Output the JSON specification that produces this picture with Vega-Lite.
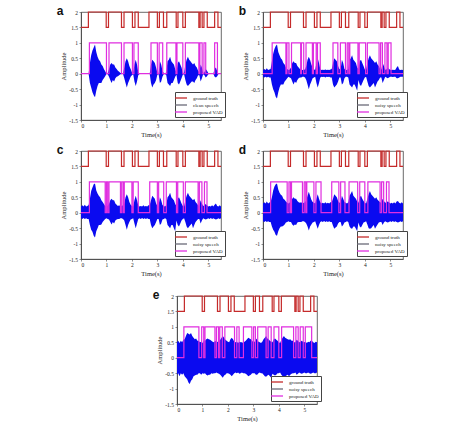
{
"$schema":"https://vega.github.io/schema/vega-lite/v6.json",
"background":"white",
"padding":{"left":56,"top":4,"right":0,"bottom":0},
"config":{
 "view":{"stroke":"#444","strokeWidth":0.8},
 "axis":{"grid":false,"labelOverlap":false,"labelSeparation":0,"labelFont":"Liberation Serif","titleFont":"Liberation Serif","labelFontSize":5.5,"titleFontSize":6.5,"titleFontWeight":"normal","labelColor":"#222","titleColor":"#222","domainColor":"#444","tickColor":"#444","tickSize":2,"domainWidth":0.8,"tickWidth":0.6,"labelPadding":1.5,"titlePadding":2},
 "axisX":{"labelOverlap":false},
 "axisY":{"labelOverlap":false},
 "axisQuantitative":{"labelOverlap":false},
 "legend":{"labelFont":"Liberation Serif","labelFontSize":5,"labelColor":"#222","symbolType":"M-2,0H2","symbolSize":36,"symbolStrokeWidth":1.3,"rowPadding":0,"padding":2,"strokeColor":"#444","fillColor":"white","labelOffset":8,"orient":"none","legendX":94,"legendY":80},
 "title":{"font":"Liberation Sans","fontSize":12,"fontWeight":"bold","color":"#111","anchor":"start","frame":"bounds","offset":-8,"dx":-4}
},
"datasets":{
"st":[
{"p":"g","s":"ground truth","t":0,"h":1.5},{"p":"g","s":"ground truth","t":0.29,"h":2},{"p":"g","s":"ground truth","t":0.99,"h":1.5},{"p":"g","s":"ground truth","t":1.08,"h":2},{"p":"g","s":"ground truth","t":1.59,"h":1.5},{"p":"g","s":"ground truth","t":1.69,"h":2},{"p":"g","s":"ground truth","t":2.02,"h":1.5},{"p":"g","s":"ground truth","t":2.12,"h":2},{"p":"g","s":"ground truth","t":2.25,"h":1.5},{"p":"g","s":"ground truth","t":2.67,"h":2},{"p":"g","s":"ground truth","t":3.0,"h":1.5},{"p":"g","s":"ground truth","t":3.08,"h":2},{"p":"g","s":"ground truth","t":3.24,"h":1.5},{"p":"g","s":"ground truth","t":3.37,"h":2},{"p":"g","s":"ground truth","t":3.74,"h":1.5},{"p":"g","s":"ground truth","t":3.81,"h":2},{"p":"g","s":"ground truth","t":4.0,"h":1.5},{"p":"g","s":"ground truth","t":4.1,"h":2},{"p":"g","s":"ground truth","t":4.63,"h":1.5},{"p":"g","s":"ground truth","t":4.68,"h":2},{"p":"g","s":"ground truth","t":4.76,"h":1.5},{"p":"g","s":"ground truth","t":4.83,"h":2},{"p":"g","s":"ground truth","t":4.96,"h":1.5},{"p":"g","s":"ground truth","t":5.25,"h":2},{"p":"g","s":"ground truth","t":5.38,"h":1.5},{"p":"g","s":"ground truth","t":5.5,"h":1.5},
{"p":"a","s":"proposed VAD","t":0,"h":0},{"p":"a","s":"proposed VAD","t":0.33,"h":1},{"p":"a","s":"proposed VAD","t":1.0,"h":0},{"p":"a","s":"proposed VAD","t":1.1,"h":1},{"p":"a","s":"proposed VAD","t":1.59,"h":0},{"p":"a","s":"proposed VAD","t":1.69,"h":1},{"p":"a","s":"proposed VAD","t":2.02,"h":0},{"p":"a","s":"proposed VAD","t":2.08,"h":1},{"p":"a","s":"proposed VAD","t":2.25,"h":0},{"p":"a","s":"proposed VAD","t":2.75,"h":1},{"p":"a","s":"proposed VAD","t":3.0,"h":0},{"p":"a","s":"proposed VAD","t":3.07,"h":1},{"p":"a","s":"proposed VAD","t":3.21,"h":0},{"p":"a","s":"proposed VAD","t":3.37,"h":1},{"p":"a","s":"proposed VAD","t":3.73,"h":0},{"p":"a","s":"proposed VAD","t":3.77,"h":1},{"p":"a","s":"proposed VAD","t":4.0,"h":0},{"p":"a","s":"proposed VAD","t":4.1,"h":1},{"p":"a","s":"proposed VAD","t":4.63,"h":0},{"p":"a","s":"proposed VAD","t":4.67,"h":1},{"p":"a","s":"proposed VAD","t":4.76,"h":0},{"p":"a","s":"proposed VAD","t":4.83,"h":1},{"p":"a","s":"proposed VAD","t":4.9,"h":0},{"p":"a","s":"proposed VAD","t":5.25,"h":1},{"p":"a","s":"proposed VAD","t":5.36,"h":0},{"p":"a","s":"proposed VAD","t":5.5,"h":0},
{"p":"b","s":"proposed VAD","t":0,"h":0},{"p":"b","s":"proposed VAD","t":0.36,"h":1},{"p":"b","s":"proposed VAD","t":0.9,"h":0},{"p":"b","s":"proposed VAD","t":0.94,"h":1},{"p":"b","s":"proposed VAD","t":1.02,"h":0},{"p":"b","s":"proposed VAD","t":1.12,"h":1},{"p":"b","s":"proposed VAD","t":1.48,"h":0},{"p":"b","s":"proposed VAD","t":1.51,"h":1},{"p":"b","s":"proposed VAD","t":1.6,"h":0},{"p":"b","s":"proposed VAD","t":1.69,"h":1},{"p":"b","s":"proposed VAD","t":1.94,"h":0},{"p":"b","s":"proposed VAD","t":1.98,"h":1},{"p":"b","s":"proposed VAD","t":2.09,"h":0},{"p":"b","s":"proposed VAD","t":2.14,"h":1},{"p":"b","s":"proposed VAD","t":2.25,"h":0},{"p":"b","s":"proposed VAD","t":2.75,"h":1},{"p":"b","s":"proposed VAD","t":2.94,"h":0},{"p":"b","s":"proposed VAD","t":3.04,"h":1},{"p":"b","s":"proposed VAD","t":3.24,"h":0},{"p":"b","s":"proposed VAD","t":3.31,"h":1},{"p":"b","s":"proposed VAD","t":3.37,"h":0},{"p":"b","s":"proposed VAD","t":3.41,"h":1},{"p":"b","s":"proposed VAD","t":3.73,"h":0},{"p":"b","s":"proposed VAD","t":3.78,"h":1},{"p":"b","s":"proposed VAD","t":4.03,"h":0},{"p":"b","s":"proposed VAD","t":4.1,"h":1},{"p":"b","s":"proposed VAD","t":4.56,"h":0},{"p":"b","s":"proposed VAD","t":4.62,"h":1},{"p":"b","s":"proposed VAD","t":4.69,"h":0},{"p":"b","s":"proposed VAD","t":4.79,"h":1},{"p":"b","s":"proposed VAD","t":4.87,"h":0},{"p":"b","s":"proposed VAD","t":4.92,"h":1},{"p":"b","s":"proposed VAD","t":5.03,"h":0},{"p":"b","s":"proposed VAD","t":5.5,"h":0},
{"p":"c","s":"proposed VAD","t":0,"h":0},{"p":"c","s":"proposed VAD","t":0.33,"h":1},{"p":"c","s":"proposed VAD","t":0.95,"h":0},{"p":"c","s":"proposed VAD","t":1.0,"h":1},{"p":"c","s":"proposed VAD","t":1.05,"h":0},{"p":"c","s":"proposed VAD","t":1.1,"h":1},{"p":"c","s":"proposed VAD","t":1.55,"h":0},{"p":"c","s":"proposed VAD","t":1.6,"h":1},{"p":"c","s":"proposed VAD","t":1.66,"h":0},{"p":"c","s":"proposed VAD","t":1.7,"h":1},{"p":"c","s":"proposed VAD","t":2.0,"h":0},{"p":"c","s":"proposed VAD","t":2.05,"h":1},{"p":"c","s":"proposed VAD","t":2.25,"h":0},{"p":"c","s":"proposed VAD","t":2.7,"h":1},{"p":"c","s":"proposed VAD","t":3.0,"h":0},{"p":"c","s":"proposed VAD","t":3.05,"h":1},{"p":"c","s":"proposed VAD","t":3.25,"h":0},{"p":"c","s":"proposed VAD","t":3.35,"h":1},{"p":"c","s":"proposed VAD","t":3.75,"h":0},{"p":"c","s":"proposed VAD","t":3.8,"h":1},{"p":"c","s":"proposed VAD","t":4.02,"h":0},{"p":"c","s":"proposed VAD","t":4.1,"h":1},{"p":"c","s":"proposed VAD","t":4.6,"h":0},{"p":"c","s":"proposed VAD","t":4.65,"h":1},{"p":"c","s":"proposed VAD","t":4.75,"h":0},{"p":"c","s":"proposed VAD","t":4.85,"h":1},{"p":"c","s":"proposed VAD","t":4.95,"h":0},{"p":"c","s":"proposed VAD","t":5.5,"h":0},
{"p":"d","s":"proposed VAD","t":0,"h":0},{"p":"d","s":"proposed VAD","t":0.3,"h":1},{"p":"d","s":"proposed VAD","t":0.95,"h":0},{"p":"d","s":"proposed VAD","t":1.02,"h":1},{"p":"d","s":"proposed VAD","t":1.08,"h":0},{"p":"d","s":"proposed VAD","t":1.12,"h":1},{"p":"d","s":"proposed VAD","t":1.55,"h":0},{"p":"d","s":"proposed VAD","t":1.62,"h":1},{"p":"d","s":"proposed VAD","t":1.68,"h":0},{"p":"d","s":"proposed VAD","t":1.72,"h":1},{"p":"d","s":"proposed VAD","t":2.0,"h":0},{"p":"d","s":"proposed VAD","t":2.08,"h":1},{"p":"d","s":"proposed VAD","t":2.28,"h":0},{"p":"d","s":"proposed VAD","t":2.7,"h":1},{"p":"d","s":"proposed VAD","t":2.98,"h":0},{"p":"d","s":"proposed VAD","t":3.05,"h":1},{"p":"d","s":"proposed VAD","t":3.22,"h":0},{"p":"d","s":"proposed VAD","t":3.38,"h":1},{"p":"d","s":"proposed VAD","t":3.72,"h":0},{"p":"d","s":"proposed VAD","t":3.8,"h":1},{"p":"d","s":"proposed VAD","t":4.0,"h":0},{"p":"d","s":"proposed VAD","t":4.12,"h":1},{"p":"d","s":"proposed VAD","t":4.6,"h":0},{"p":"d","s":"proposed VAD","t":4.66,"h":1},{"p":"d","s":"proposed VAD","t":4.74,"h":0},{"p":"d","s":"proposed VAD","t":4.85,"h":1},{"p":"d","s":"proposed VAD","t":4.95,"h":0},{"p":"d","s":"proposed VAD","t":5.5,"h":0},
{"p":"e","s":"proposed VAD","t":0,"h":0},{"p":"e","s":"proposed VAD","t":0.27,"h":1},{"p":"e","s":"proposed VAD","t":0.86,"h":0},{"p":"e","s":"proposed VAD","t":0.97,"h":1},{"p":"e","s":"proposed VAD","t":1.05,"h":0},{"p":"e","s":"proposed VAD","t":1.1,"h":1},{"p":"e","s":"proposed VAD","t":1.49,"h":0},{"p":"e","s":"proposed VAD","t":1.55,"h":1},{"p":"e","s":"proposed VAD","t":1.63,"h":0},{"p":"e","s":"proposed VAD","t":1.68,"h":1},{"p":"e","s":"proposed VAD","t":1.78,"h":0},{"p":"e","s":"proposed VAD","t":1.88,"h":1},{"p":"e","s":"proposed VAD","t":2.26,"h":0},{"p":"e","s":"proposed VAD","t":2.35,"h":1},{"p":"e","s":"proposed VAD","t":2.44,"h":0},{"p":"e","s":"proposed VAD","t":2.61,"h":1},{"p":"e","s":"proposed VAD","t":2.94,"h":0},{"p":"e","s":"proposed VAD","t":3.01,"h":1},{"p":"e","s":"proposed VAD","t":3.08,"h":0},{"p":"e","s":"proposed VAD","t":3.17,"h":1},{"p":"e","s":"proposed VAD","t":3.5,"h":0},{"p":"e","s":"proposed VAD","t":3.58,"h":1},{"p":"e","s":"proposed VAD","t":3.7,"h":0},{"p":"e","s":"proposed VAD","t":3.81,"h":1},{"p":"e","s":"proposed VAD","t":4.0,"h":0},{"p":"e","s":"proposed VAD","t":4.11,"h":1},{"p":"e","s":"proposed VAD","t":4.58,"h":0},{"p":"e","s":"proposed VAD","t":4.67,"h":1},{"p":"e","s":"proposed VAD","t":4.76,"h":0},{"p":"e","s":"proposed VAD","t":4.84,"h":1},{"p":"e","s":"proposed VAD","t":4.96,"h":0},{"p":"e","s":"proposed VAD","t":5.04,"h":1},{"p":"e","s":"proposed VAD","t":5.29,"h":0},{"p":"e","s":"proposed VAD","t":5.5,"h":0}
],
"sp":[
{"p":"a","t":0,"h":0.01,"l":-0.01},{"p":"a","t":0.3,"h":0.01,"l":-0.01},{"p":"a","t":0.35,"h":0.35,"l":-0.3},{"p":"a","t":0.4,"h":0.6,"l":-0.45},{"p":"a","t":0.45,"h":0.75,"l":-0.6},{"p":"a","t":0.5,"h":0.85,"l":-0.7},{"p":"a","t":0.55,"h":0.95,"l":-0.76},{"p":"a","t":0.6,"h":0.7,"l":-0.55},{"p":"a","t":0.65,"h":0.55,"l":-0.4},{"p":"a","t":0.7,"h":0.45,"l":-0.3},{"p":"a","t":0.75,"h":0.4,"l":-0.3},{"p":"a","t":0.8,"h":0.3,"l":-0.3},{"p":"a","t":0.85,"h":0.25,"l":-0.2},{"p":"a","t":0.9,"h":0.15,"l":-0.15},{"p":"a","t":0.95,"h":0.08,"l":-0.08},{"p":"a","t":1.0,"h":0.01,"l":-0.01},{"p":"a","t":1.05,"h":0.02,"l":-0.02},{"p":"a","t":1.1,"h":0.15,"l":-0.1},{"p":"a","t":1.15,"h":0.3,"l":-0.2},{"p":"a","t":1.2,"h":0.35,"l":-0.3},{"p":"a","t":1.25,"h":0.3,"l":-0.2},{"p":"a","t":1.3,"h":0.3,"l":-0.25},{"p":"a","t":1.35,"h":0.2,"l":-0.15},{"p":"a","t":1.4,"h":0.15,"l":-0.1},{"p":"a","t":1.45,"h":0.1,"l":-0.08},{"p":"a","t":1.5,"h":0.06,"l":-0.05},{"p":"a","t":1.55,"h":0.02,"l":-0.02},{"p":"a","t":1.65,"h":0.01,"l":-0.01},{"p":"a","t":1.7,"h":0.2,"l":-0.15},{"p":"a","t":1.75,"h":0.4,"l":-0.3},{"p":"a","t":1.8,"h":0.5,"l":-0.45},{"p":"a","t":1.85,"h":0.4,"l":-0.3},{"p":"a","t":1.9,"h":0.25,"l":-0.2},{"p":"a","t":1.95,"h":0.15,"l":-0.1},{"p":"a","t":2.0,"h":0.05,"l":-0.05},{"p":"a","t":2.05,"h":0.02,"l":-0.02},{"p":"a","t":2.1,"h":0.3,"l":-0.25},{"p":"a","t":2.15,"h":0.45,"l":-0.4},{"p":"a","t":2.2,"h":0.3,"l":-0.25},{"p":"a","t":2.25,"h":0.05,"l":-0.05},{"p":"a","t":2.3,"h":0.01,"l":-0.01},{"p":"a","t":2.7,"h":0.01,"l":-0.01},{"p":"a","t":2.75,"h":0.3,"l":-0.3},{"p":"a","t":2.8,"h":0.45,"l":-0.45},{"p":"a","t":2.85,"h":0.4,"l":-0.35},{"p":"a","t":2.9,"h":0.35,"l":-0.3},{"p":"a","t":2.95,"h":0.2,"l":-0.2},{"p":"a","t":3.0,"h":0.03,"l":-0.03},{"p":"a","t":3.05,"h":0.02,"l":-0.02},{"p":"a","t":3.1,"h":0.4,"l":-0.3},{"p":"a","t":3.15,"h":0.3,"l":-0.25},{"p":"a","t":3.2,"h":0.1,"l":-0.1},{"p":"a","t":3.25,"h":0.02,"l":-0.02},{"p":"a","t":3.3,"h":0.01,"l":-0.01},{"p":"a","t":3.35,"h":0.05,"l":-0.05},{"p":"a","t":3.4,"h":0.4,"l":-0.3},{"p":"a","t":3.45,"h":0.45,"l":-0.35},{"p":"a","t":3.5,"h":0.55,"l":-0.4},{"p":"a","t":3.55,"h":0.4,"l":-0.3},{"p":"a","t":3.6,"h":0.35,"l":-0.3},{"p":"a","t":3.65,"h":0.3,"l":-0.2},{"p":"a","t":3.7,"h":0.15,"l":-0.1},{"p":"a","t":3.75,"h":0.03,"l":-0.03},{"p":"a","t":3.8,"h":0.35,"l":-0.3},{"p":"a","t":3.85,"h":0.4,"l":-0.35},{"p":"a","t":3.9,"h":0.3,"l":-0.25},{"p":"a","t":3.95,"h":0.2,"l":-0.15},{"p":"a","t":4.0,"h":0.03,"l":-0.03},{"p":"a","t":4.05,"h":0.02,"l":-0.02},{"p":"a","t":4.1,"h":0.3,"l":-0.2},{"p":"a","t":4.15,"h":0.45,"l":-0.35},{"p":"a","t":4.2,"h":0.55,"l":-0.4},{"p":"a","t":4.25,"h":0.45,"l":-0.35},{"p":"a","t":4.3,"h":0.4,"l":-0.3},{"p":"a","t":4.35,"h":0.35,"l":-0.25},{"p":"a","t":4.4,"h":0.3,"l":-0.25},{"p":"a","t":4.45,"h":0.35,"l":-0.3},{"p":"a","t":4.5,"h":0.25,"l":-0.2},{"p":"a","t":4.55,"h":0.2,"l":-0.15},{"p":"a","t":4.6,"h":0.1,"l":-0.05},{"p":"a","t":4.65,"h":0.05,"l":-0.05},{"p":"a","t":4.7,"h":0.3,"l":-0.25},{"p":"a","t":4.75,"h":0.2,"l":-0.15},{"p":"a","t":4.8,"h":0.02,"l":-0.02},{"p":"a","t":4.85,"h":0.05,"l":-0.05},{"p":"a","t":4.9,"h":0.15,"l":-0.12},{"p":"a","t":4.95,"h":0.1,"l":-0.08},{"p":"a","t":5.0,"h":0.02,"l":-0.02},{"p":"a","t":5.05,"h":0.01,"l":-0.01},{"p":"a","t":5.2,"h":0.01,"l":-0.01},{"p":"a","t":5.25,"h":0.15,"l":-0.1},{"p":"a","t":5.3,"h":0.2,"l":-0.12},{"p":"a","t":5.35,"h":0.08,"l":-0.08},{"p":"a","t":5.4,"h":0.01,"l":-0.01},{"p":"a","t":5.5,"h":0.01,"l":-0.01},
{"p":"b","t":0,"h":0.12,"l":-0.1},{"p":"b","t":0.05,"h":0.15,"l":-0.12},{"p":"b","t":0.1,"h":0.12,"l":-0.1},{"p":"b","t":0.15,"h":0.18,"l":-0.12},{"p":"b","t":0.2,"h":0.12,"l":-0.1},{"p":"b","t":0.25,"h":0.14,"l":-0.12},{"p":"b","t":0.3,"h":0.15,"l":-0.12},{"p":"b","t":0.35,"h":0.4,"l":-0.35},{"p":"b","t":0.4,"h":0.65,"l":-0.5},{"p":"b","t":0.45,"h":0.8,"l":-0.6},{"p":"b","t":0.5,"h":0.9,"l":-0.75},{"p":"b","t":0.55,"h":0.95,"l":-0.8},{"p":"b","t":0.6,"h":0.7,"l":-0.6},{"p":"b","t":0.65,"h":0.6,"l":-0.45},{"p":"b","t":0.7,"h":0.5,"l":-0.35},{"p":"b","t":0.75,"h":0.45,"l":-0.35},{"p":"b","t":0.8,"h":0.35,"l":-0.35},{"p":"b","t":0.85,"h":0.3,"l":-0.25},{"p":"b","t":0.9,"h":0.2,"l":-0.2},{"p":"b","t":0.95,"h":0.15,"l":-0.15},{"p":"b","t":1.0,"h":0.12,"l":-0.1},{"p":"b","t":1.05,"h":0.14,"l":-0.12},{"p":"b","t":1.1,"h":0.2,"l":-0.15},{"p":"b","t":1.15,"h":0.35,"l":-0.25},{"p":"b","t":1.2,"h":0.4,"l":-0.35},{"p":"b","t":1.25,"h":0.35,"l":-0.25},{"p":"b","t":1.3,"h":0.35,"l":-0.3},{"p":"b","t":1.35,"h":0.25,"l":-0.2},{"p":"b","t":1.4,"h":0.2,"l":-0.15},{"p":"b","t":1.45,"h":0.15,"l":-0.12},{"p":"b","t":1.5,"h":0.14,"l":-0.12},{"p":"b","t":1.55,"h":0.12,"l":-0.1},{"p":"b","t":1.6,"h":0.13,"l":-0.1},{"p":"b","t":1.65,"h":0.14,"l":-0.12},{"p":"b","t":1.7,"h":0.25,"l":-0.2},{"p":"b","t":1.75,"h":0.45,"l":-0.35},{"p":"b","t":1.8,"h":0.55,"l":-0.5},{"p":"b","t":1.85,"h":0.45,"l":-0.35},{"p":"b","t":1.9,"h":0.3,"l":-0.25},{"p":"b","t":1.95,"h":0.2,"l":-0.15},{"p":"b","t":2.0,"h":0.14,"l":-0.12},{"p":"b","t":2.05,"h":0.13,"l":-0.1},{"p":"b","t":2.1,"h":0.35,"l":-0.3},{"p":"b","t":2.15,"h":0.5,"l":-0.45},{"p":"b","t":2.2,"h":0.35,"l":-0.3},{"p":"b","t":2.25,"h":0.15,"l":-0.12},{"p":"b","t":2.3,"h":0.12,"l":-0.1},{"p":"b","t":2.35,"h":0.13,"l":-0.11},{"p":"b","t":2.4,"h":0.12,"l":-0.1},{"p":"b","t":2.45,"h":0.14,"l":-0.12},{"p":"b","t":2.5,"h":0.12,"l":-0.1},{"p":"b","t":2.55,"h":0.13,"l":-0.11},{"p":"b","t":2.6,"h":0.12,"l":-0.1},{"p":"b","t":2.65,"h":0.14,"l":-0.12},{"p":"b","t":2.7,"h":0.15,"l":-0.12},{"p":"b","t":2.75,"h":0.35,"l":-0.35},{"p":"b","t":2.8,"h":0.5,"l":-0.45},{"p":"b","t":2.85,"h":0.45,"l":-0.4},{"p":"b","t":2.9,"h":0.4,"l":-0.35},{"p":"b","t":2.95,"h":0.25,"l":-0.25},{"p":"b","t":3.0,"h":0.15,"l":-0.12},{"p":"b","t":3.05,"h":0.14,"l":-0.12},{"p":"b","t":3.1,"h":0.45,"l":-0.35},{"p":"b","t":3.15,"h":0.35,"l":-0.3},{"p":"b","t":3.2,"h":0.15,"l":-0.15},{"p":"b","t":3.25,"h":0.13,"l":-0.1},{"p":"b","t":3.3,"h":0.12,"l":-0.1},{"p":"b","t":3.35,"h":0.15,"l":-0.12},{"p":"b","t":3.4,"h":0.45,"l":-0.35},{"p":"b","t":3.45,"h":0.5,"l":-0.4},{"p":"b","t":3.5,"h":0.6,"l":-0.45},{"p":"b","t":3.55,"h":0.45,"l":-0.35},{"p":"b","t":3.6,"h":0.4,"l":-0.35},{"p":"b","t":3.65,"h":0.35,"l":-0.45},{"p":"b","t":3.7,"h":0.2,"l":-0.55},{"p":"b","t":3.75,"h":0.15,"l":-0.2},{"p":"b","t":3.8,"h":0.4,"l":-0.35},{"p":"b","t":3.85,"h":0.45,"l":-0.4},{"p":"b","t":3.9,"h":0.35,"l":-0.3},{"p":"b","t":3.95,"h":0.25,"l":-0.2},{"p":"b","t":4.0,"h":0.14,"l":-0.12},{"p":"b","t":4.05,"h":0.13,"l":-0.1},{"p":"b","t":4.1,"h":0.35,"l":-0.25},{"p":"b","t":4.15,"h":0.5,"l":-0.4},{"p":"b","t":4.2,"h":0.6,"l":-0.45},{"p":"b","t":4.25,"h":0.5,"l":-0.4},{"p":"b","t":4.3,"h":0.45,"l":-0.35},{"p":"b","t":4.35,"h":0.4,"l":-0.3},{"p":"b","t":4.4,"h":0.35,"l":-0.45},{"p":"b","t":4.45,"h":0.4,"l":-0.35},{"p":"b","t":4.5,"h":0.3,"l":-0.25},{"p":"b","t":4.55,"h":0.25,"l":-0.2},{"p":"b","t":4.6,"h":0.15,"l":-0.12},{"p":"b","t":4.65,"h":0.14,"l":-0.12},{"p":"b","t":4.7,"h":0.35,"l":-0.3},{"p":"b","t":4.75,"h":0.25,"l":-0.2},{"p":"b","t":4.8,"h":0.13,"l":-0.1},{"p":"b","t":4.85,"h":0.14,"l":-0.12},{"p":"b","t":4.9,"h":0.2,"l":-0.15},{"p":"b","t":4.95,"h":0.15,"l":-0.12},{"p":"b","t":5.0,"h":0.13,"l":-0.1},{"p":"b","t":5.05,"h":0.12,"l":-0.1},{"p":"b","t":5.1,"h":0.13,"l":-0.11},{"p":"b","t":5.15,"h":0.12,"l":-0.1},{"p":"b","t":5.2,"h":0.13,"l":-0.1},{"p":"b","t":5.25,"h":0.2,"l":-0.15},{"p":"b","t":5.3,"h":0.25,"l":-0.15},{"p":"b","t":5.35,"h":0.14,"l":-0.12},{"p":"b","t":5.4,"h":0.12,"l":-0.1},{"p":"b","t":5.45,"h":0.13,"l":-0.1},{"p":"b","t":5.5,"h":0.12,"l":-0.1},
{"p":"c","t":0,"h":0.2,"l":-0.18},{"p":"c","t":0.05,"h":0.24,"l":-0.2},{"p":"c","t":0.1,"h":0.2,"l":-0.17},{"p":"c","t":0.15,"h":0.26,"l":-0.2},{"p":"c","t":0.2,"h":0.2,"l":-0.18},{"p":"c","t":0.25,"h":0.22,"l":-0.2},{"p":"c","t":0.3,"h":0.25,"l":-0.2},{"p":"c","t":0.35,"h":0.45,"l":-0.4},{"p":"c","t":0.4,"h":0.7,"l":-0.55},{"p":"c","t":0.45,"h":0.82,"l":-0.62},{"p":"c","t":0.5,"h":0.92,"l":-0.75},{"p":"c","t":0.55,"h":0.95,"l":-0.8},{"p":"c","t":0.6,"h":0.72,"l":-0.6},{"p":"c","t":0.65,"h":0.62,"l":-0.5},{"p":"c","t":0.7,"h":0.55,"l":-0.4},{"p":"c","t":0.75,"h":0.5,"l":-0.4},{"p":"c","t":0.8,"h":0.4,"l":-0.38},{"p":"c","t":0.85,"h":0.35,"l":-0.3},{"p":"c","t":0.9,"h":0.28,"l":-0.25},{"p":"c","t":0.95,"h":0.22,"l":-0.2},{"p":"c","t":1.0,"h":0.2,"l":-0.18},{"p":"c","t":1.05,"h":0.23,"l":-0.2},{"p":"c","t":1.1,"h":0.28,"l":-0.22},{"p":"c","t":1.15,"h":0.4,"l":-0.3},{"p":"c","t":1.2,"h":0.45,"l":-0.38},{"p":"c","t":1.25,"h":0.4,"l":-0.3},{"p":"c","t":1.3,"h":0.4,"l":-0.35},{"p":"c","t":1.35,"h":0.3,"l":-0.25},{"p":"c","t":1.4,"h":0.26,"l":-0.22},{"p":"c","t":1.45,"h":0.22,"l":-0.2},{"p":"c","t":1.5,"h":0.24,"l":-0.2},{"p":"c","t":1.55,"h":0.2,"l":-0.18},{"p":"c","t":1.6,"h":0.22,"l":-0.18},{"p":"c","t":1.65,"h":0.24,"l":-0.2},{"p":"c","t":1.7,"h":0.3,"l":-0.25},{"p":"c","t":1.75,"h":0.5,"l":-0.4},{"p":"c","t":1.8,"h":0.6,"l":-0.55},{"p":"c","t":1.85,"h":0.5,"l":-0.4},{"p":"c","t":1.9,"h":0.35,"l":-0.3},{"p":"c","t":1.95,"h":0.26,"l":-0.22},{"p":"c","t":2.0,"h":0.22,"l":-0.2},{"p":"c","t":2.05,"h":0.2,"l":-0.18},{"p":"c","t":2.1,"h":0.4,"l":-0.35},{"p":"c","t":2.15,"h":0.55,"l":-0.5},{"p":"c","t":2.2,"h":0.4,"l":-0.35},{"p":"c","t":2.25,"h":0.24,"l":-0.2},{"p":"c","t":2.3,"h":0.2,"l":-0.18},{"p":"c","t":2.35,"h":0.22,"l":-0.2},{"p":"c","t":2.4,"h":0.2,"l":-0.17},{"p":"c","t":2.45,"h":0.24,"l":-0.2},{"p":"c","t":2.5,"h":0.2,"l":-0.18},{"p":"c","t":2.55,"h":0.22,"l":-0.2},{"p":"c","t":2.6,"h":0.2,"l":-0.18},{"p":"c","t":2.65,"h":0.24,"l":-0.2},{"p":"c","t":2.7,"h":0.25,"l":-0.2},{"p":"c","t":2.75,"h":0.4,"l":-0.4},{"p":"c","t":2.8,"h":0.55,"l":-0.5},{"p":"c","t":2.85,"h":0.5,"l":-0.45},{"p":"c","t":2.9,"h":0.45,"l":-0.4},{"p":"c","t":2.95,"h":0.3,"l":-0.3},{"p":"c","t":3.0,"h":0.22,"l":-0.2},{"p":"c","t":3.05,"h":0.24,"l":-0.2},{"p":"c","t":3.1,"h":0.5,"l":-0.4},{"p":"c","t":3.15,"h":0.4,"l":-0.35},{"p":"c","t":3.2,"h":0.25,"l":-0.22},{"p":"c","t":3.25,"h":0.22,"l":-0.2},{"p":"c","t":3.3,"h":0.2,"l":-0.18},{"p":"c","t":3.35,"h":0.24,"l":-0.2},{"p":"c","t":3.4,"h":0.5,"l":-0.4},{"p":"c","t":3.45,"h":0.55,"l":-0.45},{"p":"c","t":3.5,"h":0.65,"l":-0.5},{"p":"c","t":3.55,"h":0.5,"l":-0.4},{"p":"c","t":3.6,"h":0.45,"l":-0.4},{"p":"c","t":3.65,"h":0.4,"l":-0.5},{"p":"c","t":3.7,"h":0.28,"l":-0.6},{"p":"c","t":3.75,"h":0.22,"l":-0.25},{"p":"c","t":3.8,"h":0.45,"l":-0.4},{"p":"c","t":3.85,"h":0.5,"l":-0.45},{"p":"c","t":3.9,"h":0.4,"l":-0.35},{"p":"c","t":3.95,"h":0.3,"l":-0.25},{"p":"c","t":4.0,"h":0.22,"l":-0.2},{"p":"c","t":4.05,"h":0.2,"l":-0.18},{"p":"c","t":4.1,"h":0.4,"l":-0.3},{"p":"c","t":4.15,"h":0.55,"l":-0.45},{"p":"c","t":4.2,"h":0.65,"l":-0.5},{"p":"c","t":4.25,"h":0.55,"l":-0.45},{"p":"c","t":4.3,"h":0.5,"l":-0.4},{"p":"c","t":4.35,"h":0.45,"l":-0.35},{"p":"c","t":4.4,"h":0.4,"l":-0.5},{"p":"c","t":4.45,"h":0.45,"l":-0.4},{"p":"c","t":4.5,"h":0.35,"l":-0.3},{"p":"c","t":4.55,"h":0.3,"l":-0.25},{"p":"c","t":4.6,"h":0.24,"l":-0.2},{"p":"c","t":4.65,"h":0.22,"l":-0.2},{"p":"c","t":4.7,"h":0.4,"l":-0.35},{"p":"c","t":4.75,"h":0.3,"l":-0.25},{"p":"c","t":4.8,"h":0.22,"l":-0.18},{"p":"c","t":4.85,"h":0.24,"l":-0.2},{"p":"c","t":4.9,"h":0.28,"l":-0.22},{"p":"c","t":4.95,"h":0.24,"l":-0.2},{"p":"c","t":5.0,"h":0.2,"l":-0.18},{"p":"c","t":5.05,"h":0.22,"l":-0.2},{"p":"c","t":5.1,"h":0.2,"l":-0.17},{"p":"c","t":5.15,"h":0.24,"l":-0.2},{"p":"c","t":5.2,"h":0.2,"l":-0.18},{"p":"c","t":5.25,"h":0.26,"l":-0.2},{"p":"c","t":5.3,"h":0.3,"l":-0.22},{"p":"c","t":5.35,"h":0.22,"l":-0.2},{"p":"c","t":5.4,"h":0.2,"l":-0.18},{"p":"c","t":5.45,"h":0.24,"l":-0.2},{"p":"c","t":5.5,"h":0.2,"l":-0.18},
{"p":"d","t":0,"h":0.3,"l":-0.28},{"p":"d","t":0.05,"h":0.34,"l":-0.3},{"p":"d","t":0.1,"h":0.3,"l":-0.27},{"p":"d","t":0.15,"h":0.36,"l":-0.3},{"p":"d","t":0.2,"h":0.3,"l":-0.28},{"p":"d","t":0.25,"h":0.33,"l":-0.3},{"p":"d","t":0.3,"h":0.35,"l":-0.3},{"p":"d","t":0.35,"h":0.5,"l":-0.45},{"p":"d","t":0.4,"h":0.72,"l":-0.55},{"p":"d","t":0.45,"h":0.85,"l":-0.62},{"p":"d","t":0.5,"h":0.92,"l":-0.72},{"p":"d","t":0.55,"h":0.95,"l":-0.75},{"p":"d","t":0.6,"h":0.75,"l":-0.6},{"p":"d","t":0.65,"h":0.65,"l":-0.5},{"p":"d","t":0.7,"h":0.58,"l":-0.45},{"p":"d","t":0.75,"h":0.55,"l":-0.45},{"p":"d","t":0.8,"h":0.45,"l":-0.42},{"p":"d","t":0.85,"h":0.42,"l":-0.38},{"p":"d","t":0.9,"h":0.36,"l":-0.32},{"p":"d","t":0.95,"h":0.32,"l":-0.3},{"p":"d","t":1.0,"h":0.3,"l":-0.28},{"p":"d","t":1.05,"h":0.33,"l":-0.3},{"p":"d","t":1.1,"h":0.36,"l":-0.3},{"p":"d","t":1.15,"h":0.45,"l":-0.38},{"p":"d","t":1.2,"h":0.5,"l":-0.42},{"p":"d","t":1.25,"h":0.45,"l":-0.38},{"p":"d","t":1.3,"h":0.45,"l":-0.4},{"p":"d","t":1.35,"h":0.38,"l":-0.32},{"p":"d","t":1.4,"h":0.34,"l":-0.3},{"p":"d","t":1.45,"h":0.32,"l":-0.3},{"p":"d","t":1.5,"h":0.34,"l":-0.3},{"p":"d","t":1.55,"h":0.3,"l":-0.28},{"p":"d","t":1.6,"h":0.32,"l":-0.28},{"p":"d","t":1.65,"h":0.34,"l":-0.3},{"p":"d","t":1.7,"h":0.4,"l":-0.35},{"p":"d","t":1.75,"h":0.55,"l":-0.45},{"p":"d","t":1.8,"h":0.68,"l":-0.58},{"p":"d","t":1.85,"h":0.55,"l":-0.45},{"p":"d","t":1.9,"h":0.42,"l":-0.38},{"p":"d","t":1.95,"h":0.35,"l":-0.32},{"p":"d","t":2.0,"h":0.32,"l":-0.3},{"p":"d","t":2.05,"h":0.3,"l":-0.28},{"p":"d","t":2.1,"h":0.45,"l":-0.4},{"p":"d","t":2.15,"h":0.6,"l":-0.52},{"p":"d","t":2.2,"h":0.45,"l":-0.4},{"p":"d","t":2.25,"h":0.34,"l":-0.3},{"p":"d","t":2.3,"h":0.3,"l":-0.28},{"p":"d","t":2.35,"h":0.32,"l":-0.3},{"p":"d","t":2.4,"h":0.3,"l":-0.27},{"p":"d","t":2.45,"h":0.34,"l":-0.3},{"p":"d","t":2.5,"h":0.3,"l":-0.28},{"p":"d","t":2.55,"h":0.32,"l":-0.3},{"p":"d","t":2.6,"h":0.3,"l":-0.28},{"p":"d","t":2.65,"h":0.34,"l":-0.3},{"p":"d","t":2.7,"h":0.35,"l":-0.3},{"p":"d","t":2.75,"h":0.45,"l":-0.42},{"p":"d","t":2.8,"h":0.6,"l":-0.52},{"p":"d","t":2.85,"h":0.55,"l":-0.48},{"p":"d","t":2.9,"h":0.5,"l":-0.45},{"p":"d","t":2.95,"h":0.38,"l":-0.35},{"p":"d","t":3.0,"h":0.32,"l":-0.3},{"p":"d","t":3.05,"h":0.34,"l":-0.3},{"p":"d","t":3.1,"h":0.55,"l":-0.45},{"p":"d","t":3.15,"h":0.45,"l":-0.4},{"p":"d","t":3.2,"h":0.35,"l":-0.32},{"p":"d","t":3.25,"h":0.32,"l":-0.3},{"p":"d","t":3.3,"h":0.3,"l":-0.28},{"p":"d","t":3.35,"h":0.34,"l":-0.3},{"p":"d","t":3.4,"h":0.55,"l":-0.45},{"p":"d","t":3.45,"h":0.62,"l":-0.5},{"p":"d","t":3.5,"h":0.7,"l":-0.52},{"p":"d","t":3.55,"h":0.55,"l":-0.45},{"p":"d","t":3.6,"h":0.5,"l":-0.45},{"p":"d","t":3.65,"h":0.45,"l":-0.52},{"p":"d","t":3.7,"h":0.36,"l":-0.6},{"p":"d","t":3.75,"h":0.32,"l":-0.32},{"p":"d","t":3.8,"h":0.5,"l":-0.45},{"p":"d","t":3.85,"h":0.55,"l":-0.48},{"p":"d","t":3.9,"h":0.45,"l":-0.4},{"p":"d","t":3.95,"h":0.38,"l":-0.32},{"p":"d","t":4.0,"h":0.32,"l":-0.3},{"p":"d","t":4.05,"h":0.3,"l":-0.28},{"p":"d","t":4.1,"h":0.45,"l":-0.38},{"p":"d","t":4.15,"h":0.6,"l":-0.5},{"p":"d","t":4.2,"h":0.7,"l":-0.52},{"p":"d","t":4.25,"h":0.6,"l":-0.5},{"p":"d","t":4.3,"h":0.55,"l":-0.45},{"p":"d","t":4.35,"h":0.5,"l":-0.4},{"p":"d","t":4.4,"h":0.45,"l":-0.52},{"p":"d","t":4.45,"h":0.5,"l":-0.45},{"p":"d","t":4.5,"h":0.42,"l":-0.38},{"p":"d","t":4.55,"h":0.38,"l":-0.32},{"p":"d","t":4.6,"h":0.34,"l":-0.3},{"p":"d","t":4.65,"h":0.32,"l":-0.3},{"p":"d","t":4.7,"h":0.45,"l":-0.4},{"p":"d","t":4.75,"h":0.38,"l":-0.32},{"p":"d","t":4.8,"h":0.32,"l":-0.28},{"p":"d","t":4.85,"h":0.34,"l":-0.3},{"p":"d","t":4.9,"h":0.36,"l":-0.32},{"p":"d","t":4.95,"h":0.34,"l":-0.3},{"p":"d","t":5.0,"h":0.3,"l":-0.28},{"p":"d","t":5.05,"h":0.32,"l":-0.3},{"p":"d","t":5.1,"h":0.3,"l":-0.27},{"p":"d","t":5.15,"h":0.34,"l":-0.3},{"p":"d","t":5.2,"h":0.3,"l":-0.28},{"p":"d","t":5.25,"h":0.36,"l":-0.3},{"p":"d","t":5.3,"h":0.38,"l":-0.32},{"p":"d","t":5.35,"h":0.32,"l":-0.3},{"p":"d","t":5.4,"h":0.3,"l":-0.28},{"p":"d","t":5.45,"h":0.34,"l":-0.3},{"p":"d","t":5.5,"h":0.3,"l":-0.28},
{"p":"e","t":0,"h":0.5,"l":-0.55},{"p":"e","t":0.05,"h":0.55,"l":-0.5},{"p":"e","t":0.1,"h":0.48,"l":-0.6},{"p":"e","t":0.15,"h":0.55,"l":-0.5},{"p":"e","t":0.2,"h":0.5,"l":-0.55},{"p":"e","t":0.25,"h":0.58,"l":-0.5},{"p":"e","t":0.3,"h":0.6,"l":-0.6},{"p":"e","t":0.35,"h":0.7,"l":-0.65},{"p":"e","t":0.4,"h":0.8,"l":-0.7},{"p":"e","t":0.45,"h":0.78,"l":-0.8},{"p":"e","t":0.5,"h":0.75,"l":-0.85},{"p":"e","t":0.55,"h":0.8,"l":-0.75},{"p":"e","t":0.6,"h":0.7,"l":-0.7},{"p":"e","t":0.65,"h":0.65,"l":-0.6},{"p":"e","t":0.7,"h":0.6,"l":-0.58},{"p":"e","t":0.75,"h":0.62,"l":-0.55},{"p":"e","t":0.8,"h":0.55,"l":-0.55},{"p":"e","t":0.85,"h":0.55,"l":-0.5},{"p":"e","t":0.9,"h":0.5,"l":-0.5},{"p":"e","t":0.95,"h":0.52,"l":-0.55},{"p":"e","t":1.0,"h":0.48,"l":-0.5},{"p":"e","t":1.05,"h":0.55,"l":-0.52},{"p":"e","t":1.1,"h":0.55,"l":-0.5},{"p":"e","t":1.15,"h":0.6,"l":-0.55},{"p":"e","t":1.2,"h":0.62,"l":-0.58},{"p":"e","t":1.25,"h":0.6,"l":-0.55},{"p":"e","t":1.3,"h":0.58,"l":-0.55},{"p":"e","t":1.35,"h":0.55,"l":-0.5},{"p":"e","t":1.4,"h":0.52,"l":-0.52},{"p":"e","t":1.45,"h":0.5,"l":-0.5},{"p":"e","t":1.5,"h":0.55,"l":-0.5},{"p":"e","t":1.55,"h":0.5,"l":-0.48},{"p":"e","t":1.6,"h":0.52,"l":-0.5},{"p":"e","t":1.65,"h":0.55,"l":-0.52},{"p":"e","t":1.7,"h":0.58,"l":-0.55},{"p":"e","t":1.75,"h":0.65,"l":-0.6},{"p":"e","t":1.8,"h":0.7,"l":-0.65},{"p":"e","t":1.85,"h":0.65,"l":-0.58},{"p":"e","t":1.9,"h":0.58,"l":-0.55},{"p":"e","t":1.95,"h":0.55,"l":-0.5},{"p":"e","t":2.0,"h":0.52,"l":-0.5},{"p":"e","t":2.05,"h":0.5,"l":-0.52},{"p":"e","t":2.1,"h":0.6,"l":-0.55},{"p":"e","t":2.15,"h":0.65,"l":-0.6},{"p":"e","t":2.2,"h":0.6,"l":-0.55},{"p":"e","t":2.25,"h":0.52,"l":-0.5},{"p":"e","t":2.3,"h":0.5,"l":-0.48},{"p":"e","t":2.35,"h":0.52,"l":-0.5},{"p":"e","t":2.4,"h":0.48,"l":-0.48},{"p":"e","t":2.45,"h":0.52,"l":-0.52},{"p":"e","t":2.5,"h":0.5,"l":-0.5},{"p":"e","t":2.55,"h":0.5,"l":-0.48},{"p":"e","t":2.6,"h":0.48,"l":-0.5},{"p":"e","t":2.65,"h":0.52,"l":-0.5},{"p":"e","t":2.7,"h":0.55,"l":-0.52},{"p":"e","t":2.75,"h":0.6,"l":-0.55},{"p":"e","t":2.8,"h":0.65,"l":-0.6},{"p":"e","t":2.85,"h":0.62,"l":-0.58},{"p":"e","t":2.9,"h":0.6,"l":-0.55},{"p":"e","t":2.95,"h":0.55,"l":-0.5},{"p":"e","t":3.0,"h":0.5,"l":-0.5},{"p":"e","t":3.05,"h":0.52,"l":-0.5},{"p":"e","t":3.1,"h":0.62,"l":-0.55},{"p":"e","t":3.15,"h":0.58,"l":-0.55},{"p":"e","t":3.2,"h":0.52,"l":-0.5},{"p":"e","t":3.25,"h":0.5,"l":-0.48},{"p":"e","t":3.3,"h":0.48,"l":-0.5},{"p":"e","t":3.35,"h":0.52,"l":-0.5},{"p":"e","t":3.4,"h":0.6,"l":-0.55},{"p":"e","t":3.45,"h":0.65,"l":-0.6},{"p":"e","t":3.5,"h":0.7,"l":-0.62},{"p":"e","t":3.55,"h":0.62,"l":-0.58},{"p":"e","t":3.6,"h":0.6,"l":-0.55},{"p":"e","t":3.65,"h":0.55,"l":-0.6},{"p":"e","t":3.7,"h":0.52,"l":-0.65},{"p":"e","t":3.75,"h":0.5,"l":-0.52},{"p":"e","t":3.8,"h":0.6,"l":-0.55},{"p":"e","t":3.85,"h":0.62,"l":-0.58},{"p":"e","t":3.9,"h":0.58,"l":-0.55},{"p":"e","t":3.95,"h":0.55,"l":-0.5},{"p":"e","t":4.0,"h":0.5,"l":-0.5},{"p":"e","t":4.05,"h":0.48,"l":-0.48},{"p":"e","t":4.1,"h":0.58,"l":-0.55},{"p":"e","t":4.15,"h":0.65,"l":-0.6},{"p":"e","t":4.2,"h":0.7,"l":-0.62},{"p":"e","t":4.25,"h":0.65,"l":-0.6},{"p":"e","t":4.3,"h":0.62,"l":-0.58},{"p":"e","t":4.35,"h":0.6,"l":-0.55},{"p":"e","t":4.4,"h":0.58,"l":-0.6},{"p":"e","t":4.45,"h":0.6,"l":-0.55},{"p":"e","t":4.5,"h":0.55,"l":-0.52},{"p":"e","t":4.55,"h":0.55,"l":-0.5},{"p":"e","t":4.6,"h":0.5,"l":-0.5},{"p":"e","t":4.65,"h":0.5,"l":-0.48},{"p":"e","t":4.7,"h":0.58,"l":-0.55},{"p":"e","t":4.75,"h":0.55,"l":-0.52},{"p":"e","t":4.8,"h":0.5,"l":-0.48},{"p":"e","t":4.85,"h":0.52,"l":-0.5},{"p":"e","t":4.9,"h":0.55,"l":-0.52},{"p":"e","t":4.95,"h":0.52,"l":-0.5},{"p":"e","t":5.0,"h":0.5,"l":-0.48},{"p":"e","t":5.05,"h":0.52,"l":-0.5},{"p":"e","t":5.1,"h":0.48,"l":-0.5},{"p":"e","t":5.15,"h":0.52,"l":-0.48},{"p":"e","t":5.2,"h":0.5,"l":-0.5},{"p":"e","t":5.25,"h":0.55,"l":-0.52},{"p":"e","t":5.3,"h":0.55,"l":-0.5},{"p":"e","t":5.35,"h":0.5,"l":-0.48},{"p":"e","t":5.4,"h":0.48,"l":-0.5},{"p":"e","t":5.45,"h":0.52,"l":-0.5},{"p":"e","t":5.5,"h":0.5,"l":-0.48}
]
},
"vconcat":[
 {"vconcat":[
  {"hconcat":[
   {"title":{"text":"a"},"width":140,"height":108,
    "encoding":{"x":{"field":"t","type":"quantitative","scale":{"domain":[0,5.5],"nice":false},"axis":{"values":[0,1,2,3,4,5],"title":"Time(s)","labelOverlap":false}},
      "y":{"field":"h","type":"quantitative","scale":{"domain":[-1.5,2],"nice":false,"zero":false},"axis":{"values":[-1.5,-1,-0.5,0,0.5,1,1.5,2],"title":"Amplitude","labelOverlap":false,"labelExpr":"datum.value<0?'-'+format(-datum.value,'~g'):format(datum.value,'~g')"}}},
    "layer":[
    {"data":{"name":"sp"},"transform":[{"filter":"datum.p=='a'"}],"mark":{"type":"area","color":"#0a0af0","opacity":1},"encoding":{"y2":{"field":"l"}}},
    {"data":{"name":"st"},"transform":[{"filter":"datum.p=='a'||datum.p=='g'"}],"mark":{"type":"line","interpolate":"step-after","strokeWidth":1.2},
     "encoding":{"color":{"field":"s","type":"nominal","scale":{"domain":["ground truth","clean speech","proposed VAD"],"range":["#c52a2a","#6a6a78","#e02ee0"]},"legend":{"title":null}}}}
   ]},
   {"title":{"text":"b"},"width":140,"height":108,
    "encoding":{"x":{"field":"t","type":"quantitative","scale":{"domain":[0,5.5],"nice":false},"axis":{"values":[0,1,2,3,4,5],"title":"Time(s)","labelOverlap":false}},
      "y":{"field":"h","type":"quantitative","scale":{"domain":[-1.5,2],"nice":false,"zero":false},"axis":{"values":[-1.5,-1,-0.5,0,0.5,1,1.5,2],"title":"Amplitude","labelOverlap":false,"labelExpr":"datum.value<0?'-'+format(-datum.value,'~g'):format(datum.value,'~g')"}}},
    "layer":[
    {"data":{"name":"sp"},"transform":[{"filter":"datum.p=='b'"}],"mark":{"type":"area","color":"#0a0af0","opacity":1},"encoding":{"y2":{"field":"l"}}},
    {"data":{"name":"st"},"transform":[{"filter":"datum.p=='b'||datum.p=='g'"}],"mark":{"type":"line","interpolate":"step-after","strokeWidth":1.2},
     "encoding":{"color":{"field":"s","type":"nominal","scale":{"domain":["ground truth","noisy speech","proposed VAD"],"range":["#c52a2a","#6a6a78","#e02ee0"]},"legend":{"title":null}}}}
   ]}
  ],"spacing":12,"resolve":{"scale":{"color":"independent"},"legend":{"color":"independent"}}},
  {"hconcat":[
   {"title":{"text":"c"},"width":140,"height":108,
    "encoding":{"x":{"field":"t","type":"quantitative","scale":{"domain":[0,5.5],"nice":false},"axis":{"values":[0,1,2,3,4,5],"title":"Time(s)","labelOverlap":false}},
      "y":{"field":"h","type":"quantitative","scale":{"domain":[-1.5,2],"nice":false,"zero":false},"axis":{"values":[-1.5,-1,-0.5,0,0.5,1,1.5,2],"title":"Amplitude","labelOverlap":false,"labelExpr":"datum.value<0?'-'+format(-datum.value,'~g'):format(datum.value,'~g')"}}},
    "layer":[
    {"data":{"name":"sp"},"transform":[{"filter":"datum.p=='c'"}],"mark":{"type":"area","color":"#0a0af0","opacity":1},"encoding":{"y2":{"field":"l"}}},
    {"data":{"name":"st"},"transform":[{"filter":"datum.p=='c'||datum.p=='g'"}],"mark":{"type":"line","interpolate":"step-after","strokeWidth":1.2},
     "encoding":{"color":{"field":"s","type":"nominal","scale":{"domain":["ground truth","noisy speech","proposed VAD"],"range":["#c52a2a","#6a6a78","#e02ee0"]},"legend":{"title":null}}}}
   ]},
   {"title":{"text":"d"},"width":140,"height":108,
    "encoding":{"x":{"field":"t","type":"quantitative","scale":{"domain":[0,5.5],"nice":false},"axis":{"values":[0,1,2,3,4,5],"title":"Time(s)","labelOverlap":false}},
      "y":{"field":"h","type":"quantitative","scale":{"domain":[-1.5,2],"nice":false,"zero":false},"axis":{"values":[-1.5,-1,-0.5,0,0.5,1,1.5,2],"title":"Amplitude","labelOverlap":false,"labelExpr":"datum.value<0?'-'+format(-datum.value,'~g'):format(datum.value,'~g')"}}},
    "layer":[
    {"data":{"name":"sp"},"transform":[{"filter":"datum.p=='d'"}],"mark":{"type":"area","color":"#0a0af0","opacity":1},"encoding":{"y2":{"field":"l"}}},
    {"data":{"name":"st"},"transform":[{"filter":"datum.p=='d'||datum.p=='g'"}],"mark":{"type":"line","interpolate":"step-after","strokeWidth":1.2},
     "encoding":{"color":{"field":"s","type":"nominal","scale":{"domain":["ground truth","noisy speech","proposed VAD"],"range":["#c52a2a","#6a6a78","#e02ee0"]},"legend":{"title":null}}}}
   ]}
  ],"spacing":12,"resolve":{"scale":{"color":"independent"},"legend":{"color":"independent"}}}
 ],"spacing":5,"resolve":{"scale":{"color":"independent"},"legend":{"color":"independent"}}},
 {"hconcat":[
  {"width":71,"height":10,"data":{"values":[{"k":1}]},"mark":{"type":"point","opacity":0},"encoding":{},"view":{"stroke":null}},
  {"title":{"text":"e"},"width":140,"height":108,
    "encoding":{"x":{"field":"t","type":"quantitative","scale":{"domain":[0,5.5],"nice":false},"axis":{"values":[0,1,2,3,4,5],"title":"Time(s)","labelOverlap":false}},
      "y":{"field":"h","type":"quantitative","scale":{"domain":[-1.5,2],"nice":false,"zero":false},"axis":{"values":[-1.5,-1,-0.5,0,0.5,1,1.5,2],"title":"Amplitude","labelOverlap":false,"labelExpr":"datum.value<0?'-'+format(-datum.value,'~g'):format(datum.value,'~g')"}}},
    "layer":[
    {"data":{"name":"sp"},"transform":[{"filter":"datum.p=='e'"}],"mark":{"type":"area","color":"#0a0af0","opacity":1},"encoding":{"y2":{"field":"l"}}},
    {"data":{"name":"st"},"transform":[{"filter":"datum.p=='e'||datum.p=='g'"}],"mark":{"type":"line","interpolate":"step-after","strokeWidth":1.2},
     "encoding":{"color":{"field":"s","type":"nominal","scale":{"domain":["ground truth","noisy speech","proposed VAD"],"range":["#c52a2a","#6a6a78","#e02ee0"]},"legend":{"title":null}}}}
  ]}
 ],"spacing":0,"resolve":{"scale":{"color":"independent"},"legend":{"color":"independent"}}}
],
"spacing":11,
"resolve":{"scale":{"color":"independent"},"legend":{"color":"independent"}}
}
